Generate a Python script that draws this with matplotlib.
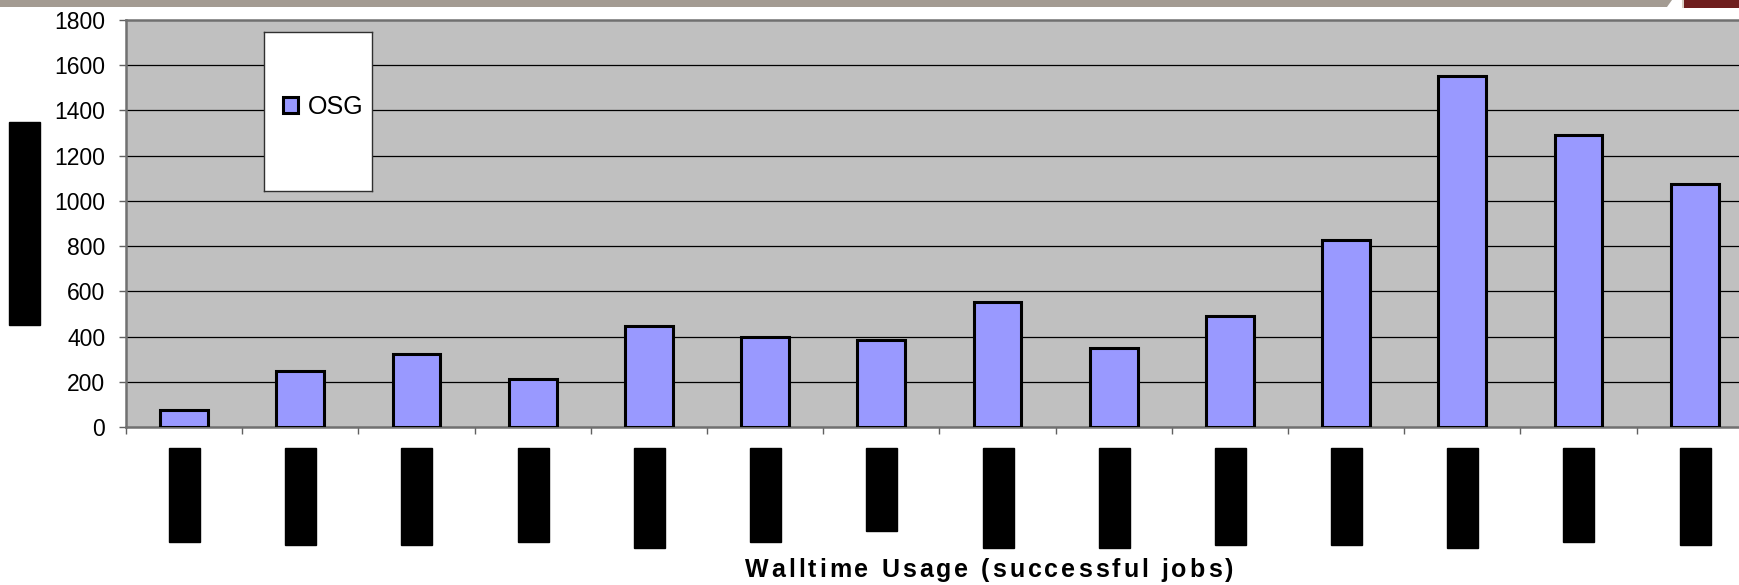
import numpy as np
import matplotlib
matplotlib.use('Agg')
import matplotlib.pyplot as plt
from matplotlib.patches import Rectangle, Polygon
from matplotlib.font_manager import FontProperties

# walltime usage per bin, OSG
series_name = "OSG"
osg_values = [73, 246, 323, 214, 448, 399, 383, 554, 351, 493, 826, 1551, 1291, 1074]
# redacted tick-label blocks below each bin: bottom edge in pixels
label_block_bottoms = [542, 545, 545, 542, 548, 542, 531, 548, 548, 545, 545, 548, 542, 545]
y_ticks = [0, 200, 400, 600, 800, 1000, 1200, 1400, 1600, 1800]
x_title = "Walltime Usage (successful jobs)"

W, H = 1740, 585
plt.rcParams['font.family'] = ['Liberation Sans', 'DejaVu Sans']

fig = plt.figure(figsize=(W / 100, H / 100), dpi=100)
fig.patch.set_facecolor("white")

# plot area in pixels
left, top, bottom = 126, 20, 427
cat_w = 116.2
n = len(osg_values)
ax = fig.add_axes([left / W, 1 - bottom / H, n * cat_w / W, (bottom - top) / H])
ax.set_facecolor("#c0c0c0")

x = np.arange(n) + 0.5
bars = ax.bar(x, osg_values, width=0.41, color="#9999ff", edgecolor="black",
              linewidth=2.2, label=series_name, zorder=3)

ax.set_xlim(0, n)
ax.set_ylim(0, 1800)
ax.set_yticks(y_ticks)
ax.set_yticklabels([str(v) for v in y_ticks], fontsize=16.5)
ax.set_xticks(np.arange(n + 1))
ax.set_xticklabels([])
ax.tick_params(axis="y", direction="out", length=5, width=1, color="#606060", pad=10)
ax.tick_params(axis="x", direction="out", length=5, width=1, color="#606060")
for v in y_ticks[1:-1]:
    ax.axhline(v, color="black", lw=0.9, zorder=1)

for side in ["left", "bottom", "top"]:
    ax.spines[side].set_color("#707070")
    ax.spines[side].set_linewidth(1.8)
ax.spines["right"].set_visible(False)

# x title, drawn letter by letter with extra tracking
title_font = FontProperties(family="Liberation Sans", weight="bold", size=18)
renderer = fig.canvas.get_renderer()

def advance(c):
    w1 = renderer.get_text_width_height_descent("|" + c + "|", title_font, ismath=False)[0]
    w0 = renderer.get_text_width_height_descent("||", title_font, ismath=False)[0]
    return w1 - w0

adv = [advance(c) for c in x_title]
title_w = 488
tracking = (title_w - sum(adv)) / (len(x_title) - 1)
cursor = 989 - title_w / 2
for c, a in zip(x_title, adv):
    fig.text(cursor / W, 1 - 577 / H, c, ha="left", va="baseline",
             fontproperties=title_font)
    cursor += a + tracking

# redacted axis labels
fig.patches.append(Rectangle((9 / W, 1 - 325 / H), 31 / W, 203 / H,
                             transform=fig.transFigure, color="black"))
for i, b in enumerate(label_block_bottoms):
    cx = left + (i + 0.5) * cat_w
    fig.patches.append(Rectangle(((cx - 15) / W, 1 - b / H), 31 / W, (b - 448) / H,
                                 transform=fig.transFigure, color="black"))

# legend box
lax = fig.add_axes([264 / W, 1 - 191 / H, 108 / W, 159 / H])
lax.set_facecolor("white")
lax.set_xticks([])
lax.set_yticks([])
for s in lax.spines.values():
    s.set_color("#303030")
    s.set_linewidth(1)
lax.legend(handles=[bars], loc="center", bbox_to_anchor=(0.55, 0.53), frameon=False,
           fontsize=18, handlelength=0.6, handleheight=0.6, handletextpad=0.4)

# slide banner strip along the top edge
fig.patches.append(Polygon([(0, 1), (1672 / W, 1), (1667 / W, 1 - 7 / H), (0, 1 - 7 / H)],
                           closed=True, transform=fig.transFigure,
                           facecolor="#a39b92", edgecolor="none"))
fig.patches.append(Rectangle((1682 / W, 1 - 8 / H), 58 / W, 8 / H,
                             transform=fig.transFigure, facecolor="#6e1e1e",
                             edgecolor="none"))
fig.patches.append(Rectangle((1682 / W, 1 - 8 / H), 2 / W, 8 / H,
                             transform=fig.transFigure, facecolor="#d8cfc4",
                             edgecolor="none"))

fig.savefig("out.png", dpi=100)
